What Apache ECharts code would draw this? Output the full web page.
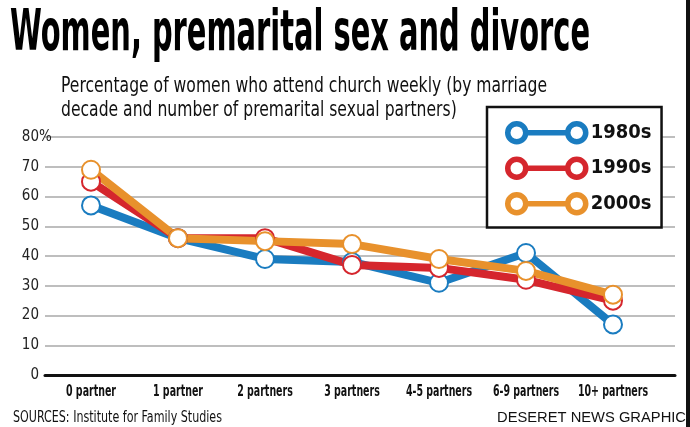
<!DOCTYPE html>
<html>
<head>
<meta charset="utf-8">
<script src="https://cdn.jsdelivr.net/npm/echarts@6/dist/echarts.min.js"></script>
<style>
  html, body { margin: 0; padding: 0; background: #fff; }
  #chart { width: 690px; height: 427px; }
</style>
</head>
<body>
<div id="chart"></div>
<script>
// data
const categories = ['0 partner', '1 partner', '2 partners', '3 partners', '4-5 partners', '6-9 partners', '10+ partners'];
const decades = ['1980s', '1990s', '2000s'];
const values1980s = [57, 46, 39, 38, 31, 41, 17];
const values1990s = [65, 46, 46, 37, 36, 32, 25];
const values2000s = [69, 46, 45, 44, 39, 35, 27];
const yMin = 0, yMax = 80, yStep = 10;

const colors = ['#1a7cc0', '#d5262d', '#e8912c'];
const NARROW = "'Liberation Sans Narrow', 'DejaVu Sans Condensed', sans-serif";

// measure text so the labels can be squeezed to the condensed look
const ctx = document.createElement('canvas').getContext('2d');
function textWidth(text, font) {
  ctx.font = font;
  return ctx.measureText(text).width;
}
function fitScale(text, font, target) {
  return target / textWidth(text, font);
}

const titleText = 'Women, premarital sex and divorce';
const titleFont = 'bold 57px ' + NARROW;
const subLine1 = 'Percentage of women who attend church weekly (by marriage';
const subLine2 = 'decade and number of premarital sexual partners)';
const subFont = '22px ' + NARROW;
const subScale = fitScale(subLine1, subFont, 486);
const srcText = 'SOURCES: Institute for Family Studies';
const srcFont = '16px ' + NARROW;
const creditText = 'DESERET NEWS GRAPHIC';
const creditFont = "15px 'Liberation Sans', Arial, sans-serif";
const catFont = 'bold 16px ' + NARROW;
const catScale = fitScale(categories[0], catFont, 50);
const topNumWidth = textWidth(String(yMax), '15px ' + NARROW);

// legend icon: two rings joined by a bar
const ringIcon = 'path://M0,9A9,9 0 1,0 18,9A9,9 0 1,0 0,9Z M18,9L60,9 M60,9A9,9 0 1,0 78,9A9,9 0 1,0 60,9Z';

const seriesValues = [values1980s, values1990s, values2000s];

const chart = echarts.init(document.getElementById('chart'));
chart.setOption({
  animation: false,
  backgroundColor: '#fff',
  grid: [
    { left: 45, right: 15, top: 137, bottom: 52 },
    { left: 47.5, right: 33.5, top: 137, bottom: 52 }
  ],
  xAxis: [
    {
      type: 'value', gridIndex: 0, min: 0, max: 1,
      axisLine: { show: true, lineStyle: { color: '#111', width: 3 } },
      axisTick: { show: false }, axisLabel: { show: false }, splitLine: { show: false }
    },
    {
      type: 'category', gridIndex: 1, data: categories, boundaryGap: true,
      axisLine: { show: false }, axisTick: { show: false },
      axisLabel: { show: false }
    }
  ],
  yAxis: [
    {
      type: 'value', gridIndex: 0, min: yMin, max: yMax, interval: yStep,
      axisLine: { show: false }, axisTick: { show: false },
      axisLabel: {
        margin: 6, fontSize: 15, color: '#222', fontFamily: NARROW,
        formatter: v => v === yMax ? '{top|' + v + '%}' : String(v),
        rich: {
          top: { fontSize: 15, color: '#222', fontFamily: NARROW, width: topNumWidth, align: 'left' }
        }
      },
      splitLine: { lineStyle: { color: '#a9a9a9', width: 1.5 } }
    },
    {
      type: 'value', gridIndex: 1, min: yMin, max: yMax, interval: yStep,
      show: false
    }
  ],
  legend: {
    orient: 'vertical',
    left: 487, top: 107,
    padding: [14, 10, 12, 18],
    itemGap: 12,
    itemWidth: 78, itemHeight: 18,
    backgroundColor: '#fff',
    borderColor: '#111', borderWidth: 2.5,
    selectedMode: false,
    textStyle: {
      fontSize: 20, lineHeight: 20, fontWeight: 'bold', color: '#111',
      fontFamily: NARROW
    },
    data: decades.map((d, i) => ({
      name: d,
      icon: ringIcon,
      itemStyle: { color: '#fff', borderColor: colors[i], borderWidth: 5.5 }
    }))
  },
  series: decades.map((d, i) => ({
    name: d,
    type: 'line',
    xAxisIndex: 1, yAxisIndex: 1,
    data: seriesValues[i],
    symbol: 'emptyCircle',
    symbolSize: 18,
    itemStyle: { color: colors[i], borderWidth: 5.5 },
    lineStyle: { color: colors[i], width: 8 }
  }))
});

// category labels, placed with the category axis and squeezed horizontally
const catLabels = categories.map(c => {
  let px = chart.convertToPixel({ xAxisIndex: 1 }, c);
  if (Array.isArray(px)) px = px[0];
  return {
    type: 'text', x: px, y: 392, scaleX: catScale,
    style: { text: c, font: catFont, fill: '#111', align: 'center', verticalAlign: 'middle' }
  };
});

chart.setOption({
  graphic: [
    {
      type: 'text', x: 10, y: 35,
      scaleX: fitScale(titleText, titleFont, 580),
      style: { text: titleText, font: titleFont, fill: '#000', verticalAlign: 'middle' }
    },
    {
      type: 'text', x: 61, y: 86, scaleX: subScale,
      style: { text: subLine1, font: subFont, fill: '#111', verticalAlign: 'middle' }
    },
    {
      type: 'text', x: 61, y: 110, scaleX: subScale,
      style: { text: subLine2, font: subFont, fill: '#111', verticalAlign: 'middle' }
    },
    {
      type: 'text', x: 13, y: 418,
      scaleX: fitScale(srcText, srcFont, 209),
      style: { text: srcText, font: srcFont, fill: '#111', verticalAlign: 'middle' }
    },
    {
      type: 'text', x: 497, y: 418,
      scaleX: fitScale(creditText, creditFont, 189),
      style: { text: creditText, font: creditFont, fill: '#111', verticalAlign: 'middle' }
    },
    {
      type: 'rect', shape: { x: 686, y: 0, width: 4, height: 427 },
      style: { fill: '#111' }
    }
  ].concat(catLabels)
});
</script>
</body>
</html>
